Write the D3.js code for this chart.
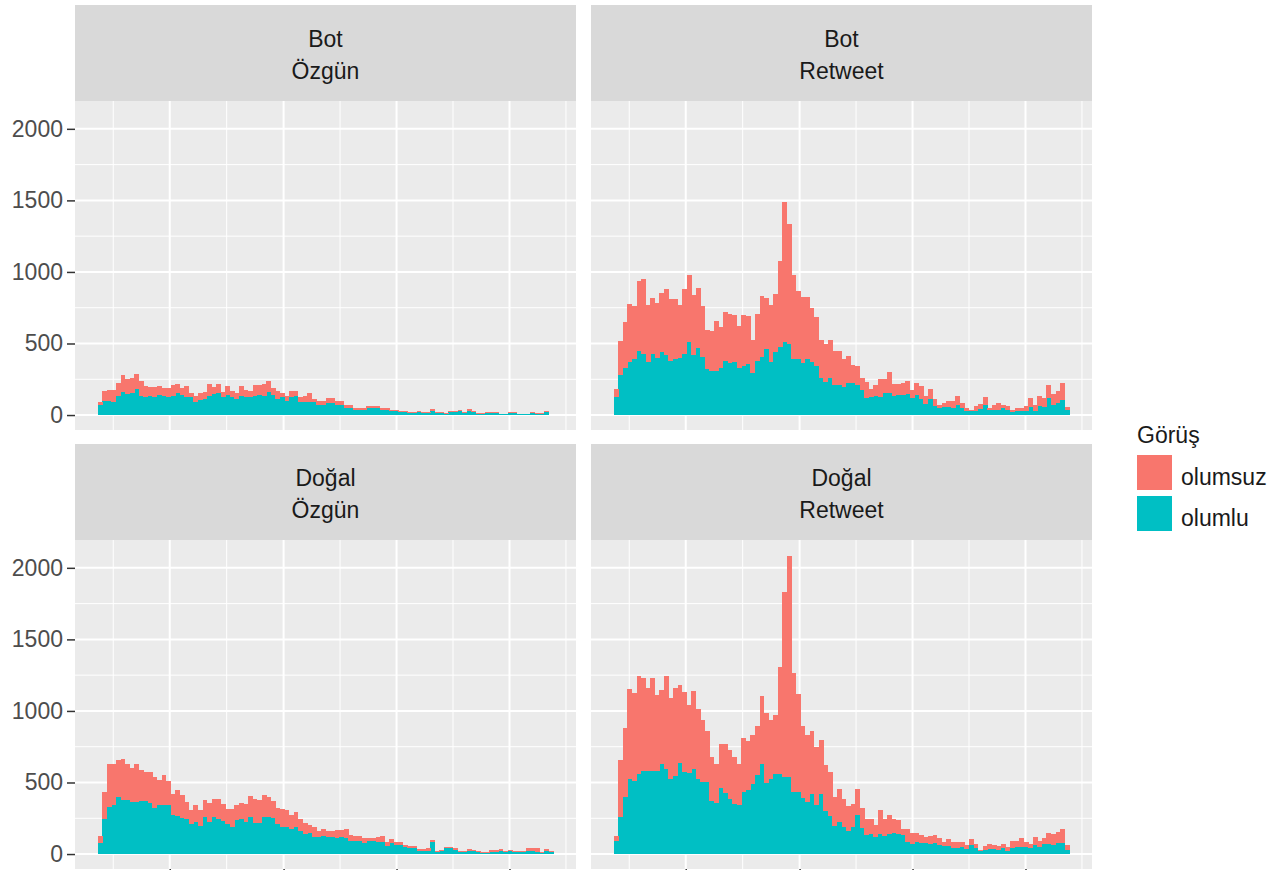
<!DOCTYPE html>
<html><head><meta charset="utf-8">
<script src="https://cdn.jsdelivr.net/npm/d3@7"></script>
<style>body{margin:0;background:#fff}svg{display:block}</style>
</head><body>
<svg id="chart" width="1280" height="870"></svg>
<script>
// ---------- data ----------
const kaynakTurleri = ["Bot", "Doğal"];          // facet rows
const tweetTurleri = ["Özgün", "Retweet"];       // facet columns
const gorusKategorileri = ["olumsuz", "olumlu"]; // legend order
const gorusRenkleri = ["#F8766D", "#00BFC4"];
const yTickValues = [0, 500, 1000, 1500, 2000];
const yTickLabels = ["0", "500", "1000", "1500", "2000"];
const yMinorBreaks = [250, 750, 1250, 1750];
const xMajorBreaks = [15.8, 40.8, 65.6, 90.4];
const xMinorBreaks = [3.4, 28.3, 53.2, 78.0, 102.8];
const binCount = 100;

const botOzgunOlumlu = [67,99,99,88,134,164,150,157,185,134,127,134,127,139,134,123,134,157,139,127,123,93,106,111,134,146,157,127,139,123,111,134,123,127,134,139,134,162,139,111,123,99,123,134,93,93,93,88,69,69,81,81,69,69,48,48,32,32,32,46,46,46,32,32,26,26,18,18,16,16,20,13,13,30,13,13,10,21,21,26,13,30,20,10,10,13,13,13,6,4,13,13,6,6,6,13,10,10,20,0];
const botOzgunOlumsuz = [23,72,77,88,93,118,100,104,104,104,77,65,72,65,58,69,74,63,53,77,34,41,51,51,81,53,58,35,65,46,46,70,50,42,74,69,86,76,53,58,34,35,46,35,34,41,64,23,30,30,35,35,30,30,21,21,14,14,14,19,19,19,14,14,11,11,7,7,7,7,8,6,6,12,6,6,4,9,9,11,6,12,8,4,4,6,6,6,3,1,6,6,3,3,3,6,4,4,8,0];

const botRetweetOlumlu = [123,282,331,372,393,449,430,368,430,400,444,419,375,389,396,430,511,423,467,405,319,305,310,331,377,363,372,331,345,356,296,377,405,460,370,444,474,511,495,393,393,361,389,370,342,259,229,259,210,210,199,222,222,210,176,116,123,134,123,153,157,130,139,143,146,116,143,111,76,111,60,46,58,58,46,69,46,30,25,30,42,69,37,37,37,46,35,19,28,30,25,53,30,60,53,116,69,81,102,37];
const botRetweetOlumsuz = [62,236,319,403,366,488,518,400,386,382,407,460,435,421,372,449,470,414,421,356,275,280,347,284,342,345,327,294,351,333,229,328,425,356,398,400,601,979,840,583,472,462,434,379,340,264,268,264,239,239,194,194,125,132,85,115,57,76,127,101,146,85,76,84,92,60,84,93,54,74,51,26,23,37,49,65,37,21,12,30,32,54,14,35,44,26,30,18,18,16,35,63,42,70,67,97,77,86,125,21];

const dogalOzgunOlumlu = [76,243,331,340,396,375,375,361,361,370,370,359,319,345,345,345,271,266,252,243,210,227,197,257,224,261,243,231,208,192,236,243,224,261,220,220,261,261,254,213,190,190,173,192,160,143,150,120,120,123,118,118,109,118,109,93,93,93,76,93,93,81,81,53,76,62,62,46,39,39,23,23,23,86,16,21,39,39,28,12,12,23,19,12,7,7,16,16,19,12,19,12,16,16,19,19,12,7,19,12];
const dogalOzgunOlumsuz = [47,194,300,291,259,291,254,243,266,220,206,217,218,175,210,168,152,185,164,118,95,113,108,118,130,125,139,118,104,120,104,111,125,148,162,155,155,139,116,111,122,115,98,102,87,77,51,72,42,50,44,44,60,51,64,39,30,30,33,20,20,39,42,28,28,19,19,16,14,14,12,12,16,11,7,7,7,7,11,7,7,12,6,7,5,5,9,9,13,7,6,7,5,3,20,20,27,5,16,7];

const dogalRetweetOlumlu = [93,259,398,527,511,560,581,581,581,581,631,592,525,548,636,576,567,594,525,504,502,372,359,465,428,386,347,342,435,446,486,555,631,493,525,560,560,537,537,435,435,389,363,423,342,423,301,266,197,224,187,162,192,271,180,134,143,120,143,127,139,150,139,132,81,69,81,74,74,69,74,62,53,58,39,39,46,35,62,39,23,30,35,35,30,39,23,39,46,46,46,39,62,46,69,69,62,76,76,28];
const dogalRetweetOlumsuz = [34,396,486,625,615,684,650,582,650,532,514,652,564,613,544,557,476,544,488,433,358,308,272,305,342,343,333,289,379,343,347,342,475,490,412,411,747,1297,1547,830,682,508,470,440,403,375,321,308,200,232,195,173,160,185,142,109,100,81,162,116,132,97,97,41,92,81,69,62,46,58,62,49,28,46,42,42,35,27,42,30,7,23,34,27,23,30,23,49,42,63,35,30,54,44,42,77,77,81,97,34];

const panelData = {
  "Bot|Özgün": [botOzgunOlumlu, botOzgunOlumsuz],
  "Bot|Retweet": [botRetweetOlumlu, botRetweetOlumsuz],
  "Doğal|Özgün": [dogalOzgunOlumlu, dogalOzgunOlumsuz],
  "Doğal|Retweet": [dogalRetweetOlumlu, dogalRetweetOlumsuz]
};

// ---------- layout ----------
const FONT = "'Liberation Sans', Arial, Helvetica, sans-serif";
const colX = [75, 591];
const panelW = 501;
const stripTop = [5, 444];
const stripH = 96;
const panelH = 329;

const svg = d3.select("#chart").style("font-family", FONT);
svg.append("rect").attr("width", 1280).attr("height", 870).attr("fill", "#fff");

const color = d3.scaleOrdinal().domain(gorusKategorileri).range(gorusRenkleri);
const stackGen = d3.stack().keys(["olumlu", "olumsuz"]);

kaynakTurleri.forEach((kaynak, r) => {
  tweetTurleri.forEach((tur, c) => {
    const x0 = colX[c];
    const sTop = stripTop[r];
    const pTop = sTop + stripH;
    const pBot = pTop + panelH;

    const x = d3.scaleLinear().domain([-5, binCount + 5]).range([x0, x0 + panelW]);
    const y = d3.scaleLinear().domain([-104.5, 2194.5]).range([pBot, pTop]);

    // strip
    svg.append("rect").attr("x", x0).attr("y", sTop).attr("width", panelW).attr("height", stripH).attr("fill", "#D9D9D9");
    const st = svg.append("text").attr("text-anchor", "middle").attr("fill", "#1A1A1A").style("font-size", "23px");
    st.append("tspan").attr("x", x0 + panelW / 2).attr("y", sTop + 41.5).text(kaynak);
    st.append("tspan").attr("x", x0 + panelW / 2).attr("y", sTop + 73.5).text(tur);

    // panel
    svg.append("rect").attr("x", x0).attr("y", pTop).attr("width", panelW).attr("height", panelH).attr("fill", "#EBEBEB");
    const g = svg.append("g");
    yMinorBreaks.forEach(v => g.append("line").attr("x1", x0).attr("x2", x0 + panelW).attr("y1", y(v)).attr("y2", y(v)).attr("stroke", "#fff").attr("stroke-width", 1));
    xMinorBreaks.forEach(v => g.append("line").attr("y1", pTop).attr("y2", pBot).attr("x1", x(v)).attr("x2", x(v)).attr("stroke", "#fff").attr("stroke-width", 1));
    yTickValues.forEach(v => g.append("line").attr("x1", x0).attr("x2", x0 + panelW).attr("y1", y(v)).attr("y2", y(v)).attr("stroke", "#fff").attr("stroke-width", 2));
    xMajorBreaks.forEach(v => g.append("line").attr("y1", pTop).attr("y2", pBot).attr("x1", x(v)).attr("x2", x(v)).attr("stroke", "#fff").attr("stroke-width", 2));

    // bars
    const [olumlu, olumsuz] = panelData[kaynak + "|" + tur];
    const rows = olumlu.map((v, i) => ({ bin: i, olumlu: v, olumsuz: olumsuz[i] }));
    const stacked = stackGen(rows);
    stacked.forEach(layer => {
      g.append("g").attr("fill", color(layer.key)).attr("shape-rendering", "crispEdges")
        .selectAll("rect").data(layer).join("rect")
        .attr("x", d => x(d.data.bin))
        .attr("width", d => x(d.data.bin + 1) - x(d.data.bin) + 0.3)
        .attr("y", d => y(d[1]))
        .attr("height", d => Math.max(0, y(d[0]) - y(d[1])));
    });

    // y axis (left column only)
    if (c === 0) {
      const ax = svg.append("g").attr("transform", `translate(${x0},0)`)
        .call(d3.axisLeft(y).tickValues(yTickValues).tickFormat((d, i) => yTickLabels[i]).tickSize(8).tickPadding(4));
      ax.select(".domain").remove();
      ax.selectAll(".tick line").attr("stroke", "#333333").attr("stroke-width", 1.5);
      ax.selectAll(".tick text").attr("fill", "#4D4D4D").style("font-size", "23px").style("font-family", FONT);
    }
    // x axis ticks (bottom row only)
    if (r === 1) {
      const ax = svg.append("g").attr("transform", `translate(0,${pBot})`)
        .call(d3.axisBottom(x).tickValues(xMajorBreaks).tickFormat("").tickSize(8));
      ax.select(".domain").remove();
      ax.selectAll(".tick line").attr("stroke", "#333333").attr("stroke-width", 1.5);
    }
  });
});

// ---------- legend ----------
const leg = svg.append("g");
leg.append("text").attr("x", 1137).attr("y", 443).attr("fill", "#1A1A1A").style("font-size", "23px").text("Görüş");
gorusKategorileri.forEach((k, i) => {
  const yy = 455 + i * 41;
  leg.append("rect").attr("x", 1137).attr("y", yy).attr("width", 35).attr("height", 35).attr("fill", color(k));
  leg.append("text").attr("x", 1181).attr("y", yy + 30).attr("fill", "#1A1A1A").style("font-size", "23px").text(k);
});
</script>
</body></html>
